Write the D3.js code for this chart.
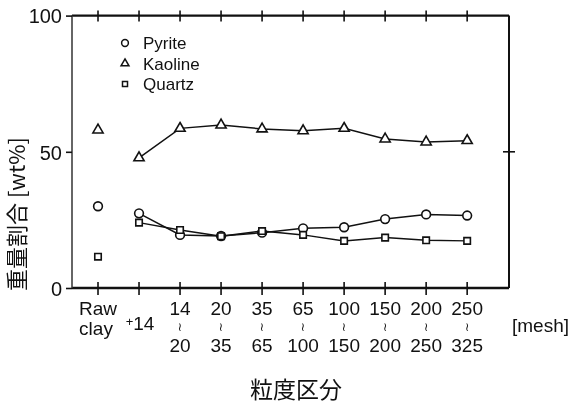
<!DOCTYPE html>
<html>
<head>
<meta charset="utf-8">
<script src="https://cdn.jsdelivr.net/npm/d3@7"></script>
<style>
  html, body { margin: 0; padding: 0; background: #fff; }
  svg { display: block; will-change: transform; }
  text { font-family: "Liberation Sans", Arial, sans-serif; fill: #111; }
</style>
</head>
<body>
<svg id="chart" width="586" height="405"></svg>
<script>
// Size fractions (mesh), first entry is the unsieved raw clay
const categories = ["Raw clay", "+14", "14-20", "20-35", "35-65", "65-100", "100-150", "150-200", "200-250", "250-325"];
const upperLabels = ["", "", "14", "20", "35", "65", "100", "150", "200", "250"];
const lowerLabels = ["", "", "20", "35", "65", "100", "150", "200", "250", "325"];

// Weight fraction [wt%] per mineral
const pyrite  = [30, 27.4, 19.5, 19.1, 20.3, 21.9, 22.3, 25.3, 27.0, 26.6];
const kaoline = [58, 47.8, 58.6, 59.8, 58.4, 57.7, 58.6, 54.7, 53.6, 54.1];
const quartz  = [11.5, 24.0, 21.3, 19.0, 20.9, 19.5, 17.3, 18.5, 17.5, 17.3];

const yTicks = [0, 50, 100];

const svg = d3.select("#chart");
const pL = 72, pR = 509, pT = 15.6, pB = 288;

const x = d3.scaleLinear().domain([-0.634, 10.02]).range([pL, pR]);
const y = d3.scaleLinear().domain([0, 100]).range([pB, pT]);
const idx = d3.range(categories.length);

// Frame
const frame = svg.append("g").attr("fill", "none").attr("stroke", "#111");
frame.append("line").attr("x1", pL).attr("x2", pR).attr("y1", pT).attr("y2", pT).attr("stroke-width", 2.4);
frame.append("line").attr("x1", pL).attr("x2", pR).attr("y1", pB).attr("y2", pB).attr("stroke-width", 2.4);
frame.append("line").attr("x1", pR).attr("x2", pR).attr("y1", pT).attr("y2", pB).attr("stroke-width", 2);
frame.append("line").attr("x1", pL).attr("x2", pL).attr("y1", pT).attr("y2", pB).attr("stroke-width", 1.5).attr("stroke", "#333");

// Category ticks crossing top and bottom edges
const ticks = svg.append("g").attr("stroke", "#111").attr("stroke-width", 1.6);
idx.forEach(i => {
  ticks.append("line").attr("x1", x(i)).attr("x2", x(i)).attr("y1", pT - 5).attr("y2", pT + 6);
  ticks.append("line").attr("x1", x(i)).attr("x2", x(i)).attr("y1", pB - 6).attr("y2", pB + 7);
});

// Y axis (left) and mid tick on the right edge
const yAxis = d3.axisLeft(y).tickValues(yTicks).tickSize(6).tickPadding(4).tickFormat(d3.format("d"));
const ya = svg.append("g").attr("transform", `translate(${pL},0)`).call(yAxis);
ya.select(".domain").remove();
ya.selectAll(".tick line").attr("stroke", "#111").attr("stroke-width", 1.6);
ya.selectAll(".tick text").style("font-size", "20px").style("font-family", "Liberation Sans")
  .attr("fill", "#111").attr("dy", "0.36em");
ticks.append("line").attr("x1", pR - 6).attr("x2", pR + 6).attr("y1", y(50)).attr("y2", y(50));

// Category labels
const lab = svg.append("g").style("font-size", "19px").attr("text-anchor", "middle");
lab.append("text").attr("x", x(0)).attr("y", 315).text("Raw");
lab.append("text").attr("x", x(0) - 2).attr("y", 335).text("clay");
const plus = lab.append("text").attr("x", x(1) + 1).attr("y", 330);
plus.append("tspan").text("+").style("font-size", "13px").attr("dy", "-4");
plus.append("tspan").text("14").attr("dy", "4");
idx.slice(2).forEach(i => {
  lab.append("text").attr("x", x(i)).attr("y", 331).style("font-size", "12px")
    .style("font-family", "DejaVu Sans").text("\u2240");
  lab.append("text").attr("x", x(i)).attr("y", 315).text(upperLabels[i]);
  lab.append("text").attr("x", x(i)).attr("y", 352).text(lowerLabels[i]);
});
svg.append("text").attr("x", 512).attr("y", 332).style("font-size", "19px").text("[mesh]");

// Axis titles
svg.append("text").attr("x", 296).attr("y", 398).attr("text-anchor", "middle")
  .style("font-size", "23px").style("font-family", "Noto Sans CJK JP").text("粒度区分");
svg.append("text").attr("transform", "translate(25,214) rotate(-90)").attr("text-anchor", "middle")
  .style("font-size", "22px").style("font-family", "Noto Sans CJK JP").text("重量割合 [wt%]");

// Series
const series = [
  { name: "Pyrite", values: pyrite, shape: "circle" },
  { name: "Kaoline", values: kaoline, shape: "triangle" },
  { name: "Quartz", values: quartz, shape: "square" }
];
const symbolFor = s => s === "circle" ? d3.symbolCircle : s === "triangle" ? d3.symbolTriangle : d3.symbolSquare;
const sizeFor = s => s === "circle" ? 60 : s === "triangle" ? 45 : 42;

series.forEach(s => {
  // raw clay is plotted on its own; the sieved fractions are joined
  const pts = idx.slice(1).map(i => [x(i), y(s.values[i])]);
  svg.append("path").attr("d", d3.line()(pts)).attr("fill", "none")
    .attr("stroke", "#111").attr("stroke-width", 1.5);
  svg.append("g").selectAll("path").data(idx).join("path")
    .attr("transform", i => `translate(${x(i)},${y(s.values[i])})`)
    .attr("d", d3.symbol().type(symbolFor(s.shape)).size(sizeFor(s.shape)))
    .attr("fill", "#fff").attr("stroke", "#111").attr("stroke-width", 1.6);
});

// Legend
const lg = svg.append("g");
series.forEach((s, k) => {
  const yy = 43 + k * 20.5;
  lg.append("path").attr("transform", `translate(125,${yy})`)
    .attr("d", d3.symbol().type(symbolFor(s.shape)).size(sizeFor(s.shape) * 0.6))
    .attr("fill", "#fff").attr("stroke", "#111").attr("stroke-width", 1.5);
  lg.append("text").attr("x", 143).attr("y", yy + 6).style("font-size", "17px").text(s.name);
});
</script>
</body>
</html>
